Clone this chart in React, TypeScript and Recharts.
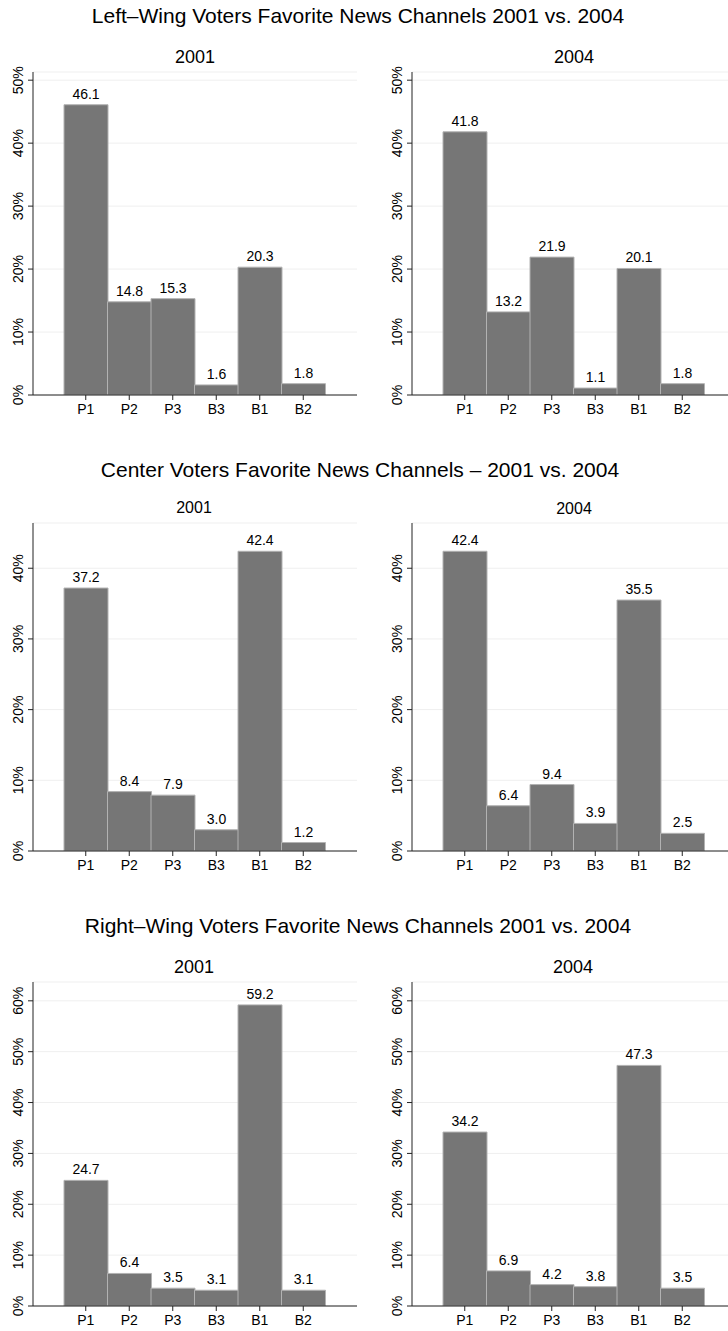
import React from 'react';
import { BarChart, Bar, XAxis, YAxis, CartesianGrid, LabelList } from 'recharts';

const channels = ['P1', 'P2', 'P3', 'B3', 'B1', 'B2'];

const left2001 = [46.1, 14.8, 15.3, 1.6, 20.3, 1.8];
const left2004 = [41.8, 13.2, 21.9, 1.1, 20.1, 1.8];
const center2001 = [37.2, 8.4, 7.9, 3.0, 42.4, 1.2];
const center2004 = [42.4, 6.4, 9.4, 3.9, 35.5, 2.5];
const right2001 = [24.7, 6.4, 3.5, 3.1, 59.2, 3.1];
const right2004 = [34.2, 6.9, 4.2, 3.8, 47.3, 3.5];

const groupTitles = [
  'Left\u2013Wing Voters Favorite News Channels 2001 vs. 2004',
  'Center Voters Favorite News Channels \u2013 2001 vs. 2004',
  'Right\u2013Wing Voters Favorite News Channels 2001 vs. 2004',
];
const yearLabels = ['2001', '2004'];

const leftTicks = [0, 10, 20, 30, 40, 50];
const centerTicks = [0, 10, 20, 30, 40];
const rightTicks = [0, 10, 20, 30, 40, 50, 60];

const FONT = '"Liberation Sans", Arial, Helvetica, sans-serif';
const BAR_FILL = '#767676';
const BAR_STROKE = '#b2b2b2';
const AXIS = '#222222';

const toRows = (values: number[]) => channels.map((name, i) => ({ name, value: values[i] }));

const RotatedTick = (props: any) => {
  const { x, y, payload } = props;
  const tx = x - 5;
  return (
    <text
      x={tx}
      y={y}
      transform={`rotate(-90 ${tx} ${y})`}
      textAnchor="middle"
      fontSize={14}
      fontFamily={FONT}
      fill="#000"
    >
      {`${payload.value}%`}
    </text>
  );
};

interface PanelProps {
  values: number[];
  ticks: number[];
  yMax: number;
  left: number;
  top: number;
  width: number;
  height: number;
  axisWidth: number;
  rightMargin: number;
  xHeight: number;
}

const Panel: React.FC<PanelProps> = ({ values, ticks, yMax, left, top, width, height, axisWidth, rightMargin, xHeight }) => (
  <div style={{ position: 'absolute', left, top }}>
    <BarChart
      width={width}
      height={height}
      data={toRows(values)}
      margin={{ top: 7, right: rightMargin, left: 0, bottom: 0 }}
      barCategoryGap={0}
    >
      <CartesianGrid vertical={false} stroke="#efefef" />
      <XAxis
        dataKey="name"
        height={xHeight}
        padding={{ left: 31, right: 32 }}
        tick={{ fontSize: 14, fill: '#000', fontFamily: FONT }}
        tickSize={5}
        tickMargin={4}
        axisLine={{ stroke: AXIS }}
        tickLine={{ stroke: AXIS }}
      />
      <YAxis
        width={axisWidth}
        domain={[0, yMax]}
        ticks={ticks}
        allowDataOverflow
        tick={<RotatedTick />}
        tickSize={5}
        tickMargin={0}
        axisLine={{ stroke: AXIS }}
        tickLine={{ stroke: AXIS }}
      />
      <Bar dataKey="value" fill={BAR_FILL} stroke={BAR_STROKE} strokeWidth={1} isAnimationActive={false}>
        <LabelList
          dataKey="value"
          position="top"
          offset={6}
          formatter={(v: any) => Number(v).toFixed(1)}
          fill="#000"
          fontSize={14}
          fontFamily={FONT}
        />
      </Bar>
    </BarChart>
  </div>
);

export default function App() {
  return (
    <div
      style={{
        position: 'absolute',
        left: 0,
        top: 0,
        width: 728,
        height: 1331,
        overflow: 'hidden',
        background: '#fff',
        fontFamily: FONT,
      }}
    >
      <svg width={728} height={1331} style={{ position: 'absolute', left: 0, top: 0 }}>
        <g fontFamily={FONT} fill="#000" textAnchor="middle">
          <text x={358} y={23} fontSize={21}>{groupTitles[0]}</text>
          <text x={195} y={63} fontSize={18}>{yearLabels[0]}</text>
          <text x={574} y={63} fontSize={18}>{yearLabels[1]}</text>

          <text x={360} y={477} fontSize={21}>{groupTitles[1]}</text>
          <text x={194} y={513} fontSize={16}>{yearLabels[0]}</text>
          <text x={574} y={514} fontSize={16}>{yearLabels[1]}</text>

          <text x={358} y={933} fontSize={21}>{groupTitles[2]}</text>
          <text x={194} y={973} fontSize={18}>{yearLabels[0]}</text>
          <text x={573} y={973} fontSize={18}>{yearLabels[1]}</text>
        </g>
      </svg>

      <Panel values={left2001} ticks={leftTicks} yMax={51.3} left={0} top={65} width={364} height={360} axisWidth={33} rightMargin={7} xHeight={30} />
      <Panel values={left2004} ticks={leftTicks} yMax={51.3} left={364} top={65} width={372} height={360} axisWidth={48} rightMargin={0} xHeight={30} />

      <Panel values={center2001} ticks={centerTicks} yMax={46.4} left={0} top={516} width={364} height={365} axisWidth={33} rightMargin={7} xHeight={30} />
      <Panel values={center2004} ticks={centerTicks} yMax={46.4} left={364} top={516} width={372} height={365} axisWidth={48} rightMargin={0} xHeight={30} />

      <Panel values={right2001} ticks={rightTicks} yMax={63.7} left={0} top={975} width={364} height={356} axisWidth={33} rightMargin={7} xHeight={25} />
      <Panel values={right2004} ticks={rightTicks} yMax={63.7} left={364} top={975} width={372} height={356} axisWidth={48} rightMargin={0} xHeight={25} />
    </div>
  );
}
